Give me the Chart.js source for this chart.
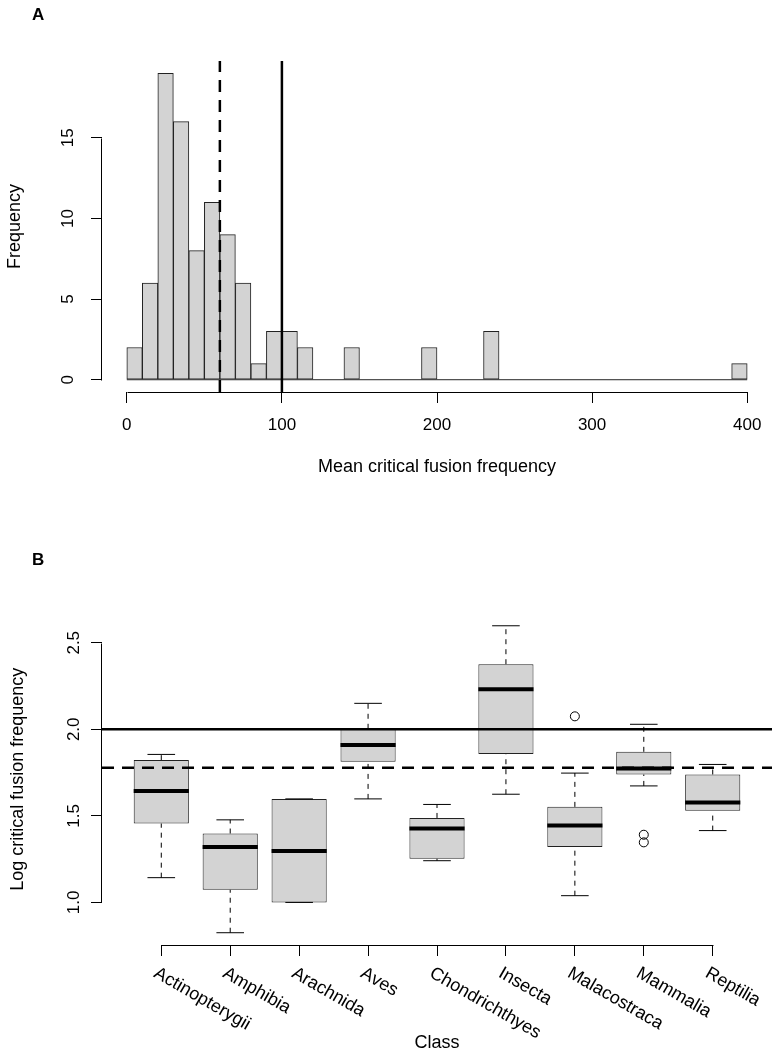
<!DOCTYPE html>
<html>
<head>
<meta charset="utf-8">
<script src="https://cdn.jsdelivr.net/npm/chart.js@4.4.1/dist/chart.umd.min.js"></script>
<style>
  body { margin: 0; background: #fff; }
  #page { position: relative; width: 779px; height: 1058px; font-family: "Liberation Sans", Arial, Helvetica, sans-serif; }
  canvas { position: absolute; left: 0; }
  #histCanvas { top: 0; }
  #boxCanvas { top: 500px; }
  .tag { position: absolute; left: 32px; font-weight: bold; font-size: 17px; line-height: 17px; }
</style>
</head>
<body>
<div id="page">
  <canvas id="histCanvas" width="779" height="500"></canvas>
  <canvas id="boxCanvas" width="779" height="558"></canvas>
  <div class="tag" style="top:6px">A</div>
  <div class="tag" style="top:551px">B</div>
</div>
<script>
// ---- panel A: histogram of mean critical fusion frequency (bins of 10) ----
const binStarts = [0, 10, 20, 30, 40, 50, 60, 70, 80, 90,
                   100, 110, 120, 130, 140, 150, 160, 170, 180, 190,
                   200, 210, 220, 230, 240, 250, 260, 270, 280, 290,
                   300, 310, 320, 330, 340, 350, 360, 370, 380, 390];
const binWidth = 10;
const binCounts = [2, 6, 19, 16, 8, 11, 9, 6, 1, 3,
                   3, 2, 0, 0, 2, 0, 0, 0, 0, 2,
                   0, 0, 0, 3, 0, 0, 0, 0, 0, 0,
                   0, 0, 0, 0, 0, 0, 0, 0, 0, 1];
const histTicksX = [0, 100, 200, 300, 400];
const histTicksY = [0, 5, 10, 15];
const cffDashed = 60;   // dashed reference line
const cffSolid = 100;   // solid reference line

// ---- panel B: log CFF per class ----
const classes = ['Actinopterygii', 'Amphibia', 'Arachnida', 'Aves', 'Chondrichthyes',
                 'Insecta', 'Malacostraca', 'Mammalia', 'Reptilia'];
const whiskLow  = [1.143, 0.825, 1.000, 1.598, 1.241, 1.625, 1.039, 1.673, 1.415];
const boxLow    = [1.456, 1.073, 1.000, 1.812, 1.253, 1.857, 1.320, 1.739, 1.529];
const medians   = [1.643, 1.320, 1.297, 1.909, 1.427, 2.232, 1.444, 1.774, 1.577];
const boxHigh   = [1.822, 1.398, 1.598, 2.003, 1.488, 2.376, 1.552, 1.870, 1.739];
const whiskHigh = [1.855, 1.477, 1.598, 2.150, 1.566, 2.598, 1.747, 2.029, 1.797];
const outlierClass = ['Malacostraca', 'Mammalia', 'Mammalia'];
const outlierValue = [2.075, 1.391, 1.347];
const boxTicksY = [1.0, 1.5, 2.0, 2.5];
const logDashed = 1.778;
const logSolid = 2.0;

Chart.defaults.font.family = '"Liberation Sans", Arial, Helvetica, sans-serif';
Chart.defaults.color = '#000';

// R style axis range: data range stretched 4% on each side
function rRange(lo, hi) {
  const pad = (hi - lo) * 0.04;
  return { min: lo - pad, max: hi + pad };
}

// base R draws the axis line only between first and last tick
const rAxisLines = {
  id: 'rAxisLines',
  afterDraw(chart) {
    const { ctx, chartArea } = chart;
    const sx = chart.scales.x, sy = chart.scales.y;
    const xs = sx.ticks.map(t => Math.round(sx.getPixelForValue(t.value)) + 0.5);
    const ys = sy.ticks.map(t => Math.round(sy.getPixelForValue(t.value)) + 0.5);
    ctx.save();
    ctx.strokeStyle = '#000';
    ctx.lineWidth = 1;
    ctx.beginPath();
    const yb = Math.round(chartArea.bottom) + 0.5;
    ctx.moveTo(Math.min(...xs), yb);
    ctx.lineTo(Math.max(...xs), yb);
    const xl = Math.round(chartArea.left) - 0.5;
    ctx.moveTo(xl, Math.min(...ys));
    ctx.lineTo(xl, Math.max(...ys));
    ctx.stroke();
    ctx.restore();
  }
};

// slanted class names under panel B
const slantLabels = {
  id: 'slantLabels',
  afterDraw(chart) {
    const { ctx } = chart;
    const sx = chart.scales.x;
    ctx.save();
    ctx.font = '18px "Liberation Sans", Arial, sans-serif';
    ctx.fillStyle = '#000';
    ctx.textAlign = 'left';
    ctx.textBaseline = 'middle';
    sx.ticks.forEach((t, i) => {
      const px = sx.getPixelForValue(t.value);
      ctx.save();
      ctx.translate(px - 6, sx.top + 27);
      ctx.rotate(30 * Math.PI / 180);
      ctx.fillText(classes[i], 0, 0);
      ctx.restore();
    });
    ctx.restore();
  }
};

function tickGrid() {
  return { drawOnChartArea: false, drawTicks: true, tickLength: 11, color: '#000', lineWidth: 1 };
}

// ---------- chart A ----------
const xA = rRange(0, 400);
const yA = rRange(0, Math.max(...binCounts));

const histChart = new Chart(document.getElementById('histCanvas'), {
  type: 'bar',
  data: {
    datasets: [
      {
        type: 'line',
        data: [{ x: cffDashed, y: yA.min }, { x: cffDashed, y: yA.max }],
        borderColor: '#000', borderWidth: 2.5, borderDash: [12, 8], pointRadius: 0, order: 0
      },
      {
        type: 'line',
        data: [{ x: cffSolid, y: yA.min }, { x: cffSolid, y: yA.max }],
        borderColor: '#000', borderWidth: 2.5, pointRadius: 0, order: 0
      },
      {
        type: 'line',
        data: [{ x: binStarts[0], y: 0 }, { x: binStarts[binStarts.length - 1] + binWidth, y: 0 }],
        borderColor: '#222', borderWidth: 1, pointRadius: 0, order: 1
      },
      {
        data: binStarts.map((s, i) => ({ x: s + binWidth / 2, y: binCounts[i] })),
        backgroundColor: '#d3d3d3',
        borderColor: '#222',
        borderWidth: 1,
        borderSkipped: false,
        barPercentage: 1,
        categoryPercentage: 1,
        order: 2
      }
    ]
  },
  options: {
    responsive: false,
    animation: false,
    events: [],
    layout: { autoPadding: false, padding: { top: 61, right: 7, left: 0, bottom: 0 } },
    plugins: { legend: { display: false }, tooltip: { enabled: false } },
    scales: {
      x: {
        type: 'linear',
        min: xA.min, max: xA.max,
        offset: false,
        grid: Object.assign(tickGrid(), { offset: false }),
        border: { display: false },
        afterBuildTicks: s => { s.ticks = histTicksX.map(v => ({ value: v })); },
        afterFit: s => { s.height = 108; },
        ticks: { autoSkip: false, maxRotation: 0, padding: 12, font: { size: 17 } },
        title: { display: true, text: 'Mean critical fusion frequency', font: { size: 18 }, padding: { top: 0, bottom: 22 } }
      },
      y: {
        min: yA.min, max: yA.max,
        grid: tickGrid(),
        border: { display: false },
        afterBuildTicks: s => { s.ticks = histTicksY.map(v => ({ value: v })); },
        afterFit: s => { s.width = 102; },
        ticks: { autoSkip: false, minRotation: 90, maxRotation: 90, crossAlign: 'center', padding: 13, font: { size: 17 } },
        title: { display: true, text: 'Frequency', font: { size: 18 }, padding: { top: 4, bottom: 0 } }
      }
    }
  },
  plugins: [rAxisLines]
});

// ---------- chart B ----------
const xB = rRange(0.5, classes.length + 0.5);
const yB = rRange(Math.min(...whiskLow, ...outlierValue), Math.max(...whiskHigh, ...outlierValue));

// dashed whiskers, one segment above and one below each box
const whiskerSets = [];
classes.forEach((c, i) => {
  whiskerSets.push({
    type: 'line',
    data: [{ x: i + 1, y: boxHigh[i] }, { x: i + 1, y: whiskHigh[i] }],
    borderColor: '#000', borderWidth: 1, borderDash: [5, 5], pointRadius: 0, order: 4
  });
  whiskerSets.push({
    type: 'line',
    data: [{ x: i + 1, y: whiskLow[i] }, { x: i + 1, y: boxLow[i] }],
    borderColor: '#000', borderWidth: 1, borderDash: [5, 5], pointRadius: 0, order: 4
  });
});

const boxChart = new Chart(document.getElementById('boxCanvas'), {
  type: 'bar',
  data: {
    datasets: [
      {
        type: 'line',
        data: [{ x: xB.min, y: logSolid }, { x: xB.max, y: logSolid }],
        borderColor: '#000', borderWidth: 2.5, pointRadius: 0, order: 0
      },
      {
        type: 'line',
        data: [{ x: xB.min, y: logDashed }, { x: xB.max, y: logDashed }],
        borderColor: '#000', borderWidth: 2.5, borderDash: [12, 8], pointRadius: 0, order: 0
      },
      {
        type: 'scatter',
        data: classes.map((c, i) => ({ x: i + 1, y: medians[i] })),
        pointStyle: 'line', pointRadius: 27.6, pointBorderWidth: 4, pointBorderColor: '#000', order: 1
      },
      {
        type: 'scatter',
        data: outlierClass.map((c, i) => ({ x: classes.indexOf(c) + 1, y: outlierValue[i] })),
        pointStyle: 'circle', pointRadius: 4.5, pointBorderWidth: 1,
        pointBorderColor: '#000', pointBackgroundColor: 'rgba(0,0,0,0)', order: 1
      },
      {
        type: 'scatter',
        data: classes.flatMap((c, i) => [{ x: i + 1, y: whiskLow[i] }, { x: i + 1, y: whiskHigh[i] }]),
        pointStyle: 'line', pointRadius: 13.8, pointBorderWidth: 1, pointBorderColor: '#000', order: 2
      },
      {
        data: classes.map((c, i) => ({ x: i + 1, y: [boxLow[i], boxHigh[i]] })),
        backgroundColor: '#d3d3d3',
        borderColor: '#222',
        borderWidth: 1,
        borderSkipped: false,
        barPercentage: 0.8,
        categoryPercentage: 1,
        order: 3
      },
      ...whiskerSets
    ]
  },
  options: {
    responsive: false,
    animation: false,
    events: [],
    layout: { autoPadding: false, padding: { top: 113.5, right: 7, left: 0, bottom: 0 } },
    plugins: { legend: { display: false }, tooltip: { enabled: false } },
    scales: {
      x: {
        type: 'linear',
        min: xB.min, max: xB.max,
        offset: false,
        grid: Object.assign(tickGrid(), { offset: false }),
        border: { display: false },
        afterBuildTicks: s => { s.ticks = classes.map((c, i) => ({ value: i + 1 })); },
        afterFit: s => { s.height = 113; },
        ticks: { autoSkip: false, maxRotation: 0, callback: () => '' },
        title: { display: true, text: 'Class', font: { size: 18 }, padding: { top: 0, bottom: 4 } }
      },
      y: {
        min: yB.min, max: yB.max,
        grid: tickGrid(),
        border: { display: false },
        afterBuildTicks: s => { s.ticks = boxTicksY.map(v => ({ value: v })); },
        afterFit: s => { s.width = 102; },
        ticks: {
          autoSkip: false, minRotation: 90, maxRotation: 90, crossAlign: 'center', padding: 5,
          font: { size: 17 }, callback: v => Number(v).toFixed(1)
        },
        title: { display: true, text: 'Log critical fusion frequency', font: { size: 18 }, padding: { top: 7, bottom: 0 } }
      }
    }
  },
  plugins: [rAxisLines, slantLabels]
});
</script>
</body>
</html>
